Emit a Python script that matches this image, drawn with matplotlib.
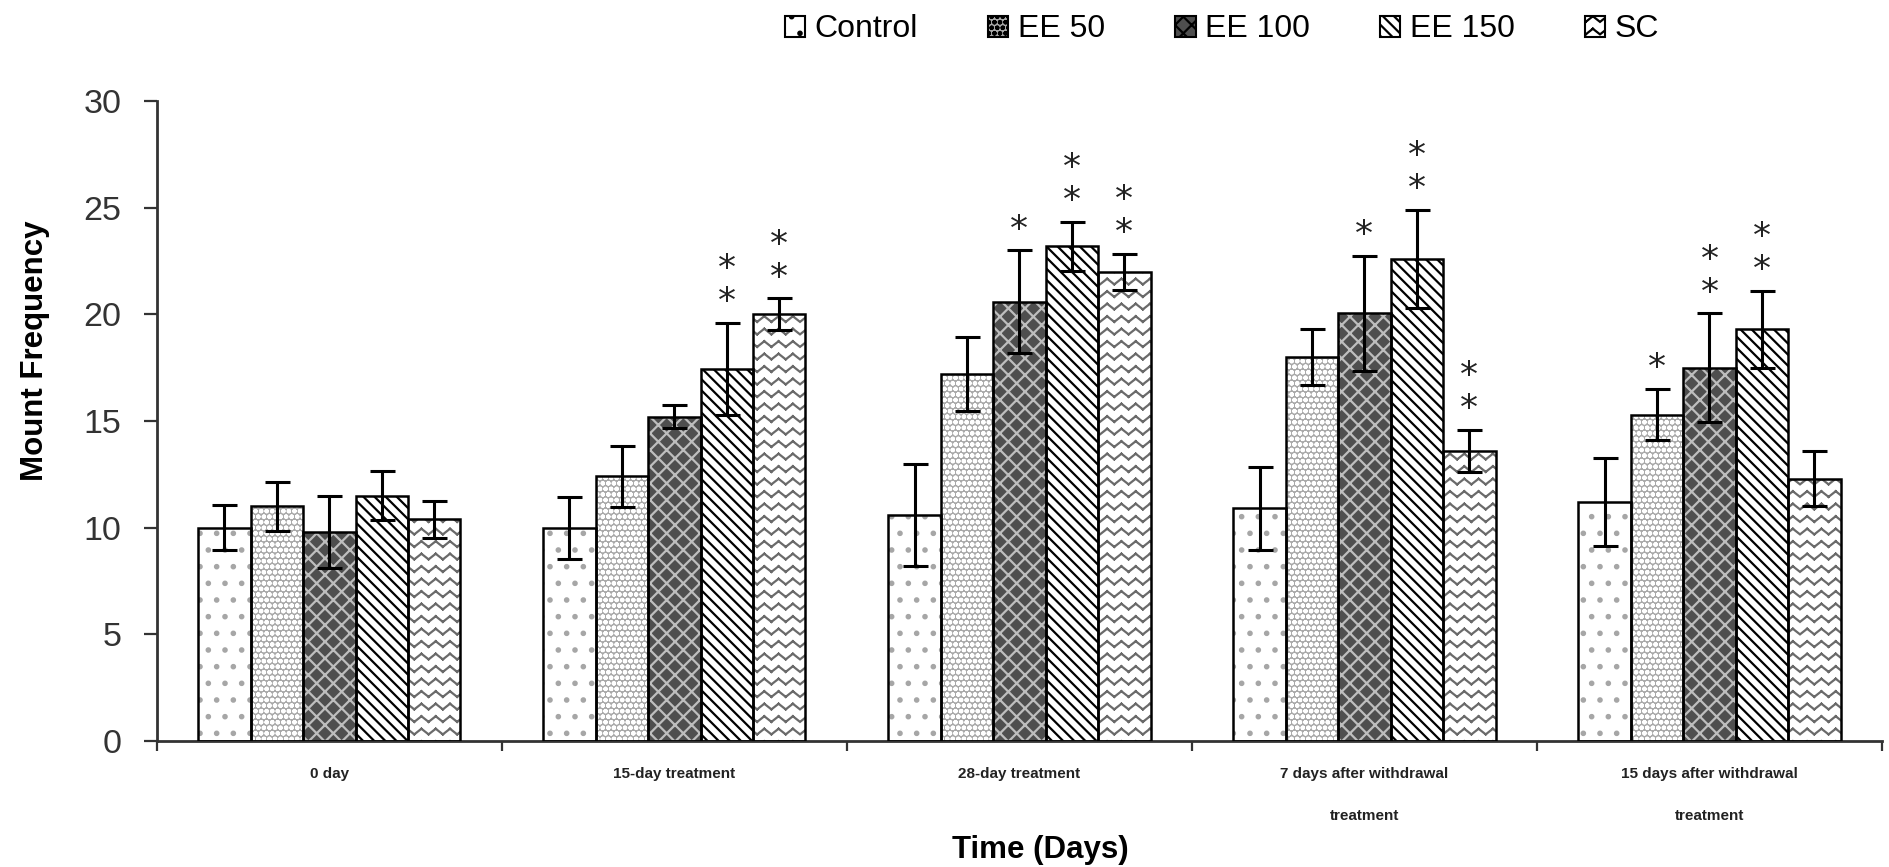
import warnings
import numpy as np
import matplotlib
matplotlib.use("Agg")
import matplotlib.pyplot as plt
import matplotlib.patches as mpatches
from matplotlib import hatch as mhatch
from matplotlib.path import Path

warnings.filterwarnings("ignore")

# --- data ---
groups = ["0 day", "15-day treatment", "28-day treatment",
          "7 days after withdrawal\ntreatment",
          "15 days after withdrawal\ntreatment"]
series = ["Control", "EE 50", "EE 100", "EE 150", "SC"]

control = [10.0, 10.0, 10.6, 10.9, 11.2]
control_err = [1.05, 1.45, 2.4, 1.95, 2.05]
ee50 = [11.0, 12.4, 17.2, 18.0, 15.3]
ee50_err = [1.15, 1.45, 1.75, 1.3, 1.2]
ee100 = [9.8, 15.2, 20.6, 20.05, 17.5]
ee100_err = [1.7, 0.55, 2.4, 2.7, 2.55]
ee150 = [11.5, 17.45, 23.2, 22.6, 19.3]
ee150_err = [1.15, 2.15, 1.15, 2.3, 1.8]
sc = [10.4, 20.0, 22.0, 13.6, 12.3]
sc_err = [0.87, 0.75, 0.85, 1.0, 1.3]

# significance marks per bar
control_sig = ["", "", "", "", ""]
ee50_sig = ["", "", "", "", "*"]
ee100_sig = ["", "", "*", "*", "**"]
ee150_sig = ["", "**", "**", "**", "**"]
sc_sig = ["", "**", "**", "**", ""]


# zigzag hatch for the SC bars (separate segments so Agg doesn't fill them)
class ZigzagHatch(mhatch.HatchPatternBase):
    def __init__(self, hatch, density):
        n = hatch.count("z")
        self.num_lines = 8 * n
        self.teeth = 7 * max(n, 1)
        self.num_vertices = self.num_lines * self.teeth * 4

    def set_vertices_and_codes(self, vertices, codes):
        amp = 0.45 / max(self.num_lines, 1)
        dx = 1.0 / (2 * self.teeth)
        i = 0
        for k in range(self.num_lines):
            y0 = (k + 0.25) / self.num_lines
            for t in range(2 * self.teeth):
                xa, xb = t * dx, (t + 1) * dx
                ya = y0 + amp * (t % 2)
                yb = y0 + amp * ((t + 1) % 2)
                vertices[i] = (xa, ya)
                vertices[i + 1] = (xb, yb)
                codes[i] = Path.MOVETO
                codes[i + 1] = Path.LINETO
                i += 2


mhatch._hatch_types.append(ZigzagHatch)

plt.rcParams["font.family"] = ["Liberation Sans", "DejaVu Sans"]
plt.rcParams["hatch.linewidth"] = 1.6

styles = [
    dict(face="white", hcol="#a6a6a6", hatch="."),
    dict(face="#a9a9a9", hcol="white", hatch="ooo"),
    dict(face="#4e4e4e", hcol="#bdbdbd", hatch="xx"),
    dict(face="white", hcol="black", hatch="\\\\\\"),
    dict(face="white", hcol="#6a6a6a", hatch="z"),
]
values = [control, ee50, ee100, ee150, sc]
errors = [control_err, ee50_err, ee100_err, ee150_err, sc_err]
sigs = [control_sig, ee50_sig, ee100_sig, ee150_sig, sc_sig]

fig = plt.figure(figsize=(18.89, 8.67), dpi=100)
ax = fig.add_axes([0.083, 0.1453, 0.9133, 0.7382])

x = np.arange(len(groups))
w = 0.152
handles = []
for j, (vals, errs, st, sg) in enumerate(zip(values, errors, styles, sigs)):
    pos = x + (j - 2) * w
    ax.bar(pos, vals, width=w, color=st["face"], edgecolor=st["hcol"],
           hatch=st["hatch"], linewidth=0, zorder=2)
    ax.bar(pos, vals, width=w, fill=False, edgecolor="black",
           linewidth=1.8, zorder=3)
    ax.errorbar(pos, vals, yerr=errs, fmt="none", ecolor="black",
                elinewidth=2.2, capsize=9, capthick=2.2, zorder=4)
    for p, v, e, s in zip(pos, vals, errs, sg):
        for k in range(len(s)):
            ax.text(p, v + e + 0.5 + k * 1.55, "*", ha="center",
                    va="baseline", fontsize=26, color="#222222",
                    family="DejaVu Sans")
    handles.append(mpatches.Patch(facecolor=st["face"], edgecolor="black",
                                  hatch=st["hatch"], linewidth=1.5))

ax.set_ylim(0, 30)
ax.set_xlim(-0.5, len(groups) - 0.5)
ax.set_yticks(range(0, 31, 5))
ax.set_xticks(x)
ax.set_xticklabels(groups, fontsize=11, fontweight="bold", linespacing=3.5,
                   color="#222222")
ax.set_xticks(np.arange(-0.5, len(groups)), minor=True)
ax.tick_params(axis="x", which="major", length=0, pad=19)
ax.tick_params(axis="x", which="minor", length=7, width=1.6, direction="out",
               color="#333333")
ax.tick_params(axis="y", length=9.5, width=1.6, direction="out", pad=16,
               labelsize=24.5, color="#333333", labelcolor="#333333")

for s in ["top", "right"]:
    ax.spines[s].set_visible(False)
for s in ["left", "bottom"]:
    ax.spines[s].set_linewidth(2)
    ax.spines[s].set_color("#333333")

ax.set_ylabel("Mount Frequency", fontsize=22.5, fontweight="bold")
ax.yaxis.set_label_coords(-0.062, 0.61)
ax.set_xlabel("Time (Days)", fontsize=22.5, fontweight="bold", va="top")
ax.xaxis.set_label_coords(0.512, -0.1475)

fig.legend(handles, series, loc="center", bbox_to_anchor=(0.647, 0.966),
           ncol=5, frameon=False, fontsize=23, handlelength=0.63,
           handleheight=0.65, handletextpad=0.3, columnspacing=2.2)

fig.savefig("out.png", dpi=100, facecolor="white")
